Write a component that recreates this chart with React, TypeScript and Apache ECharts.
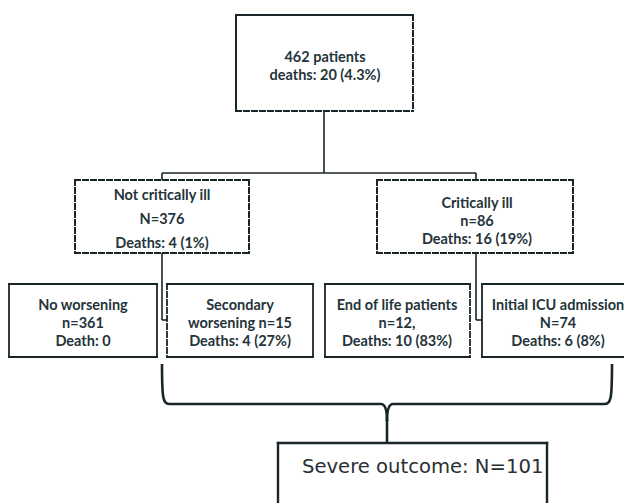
import React, { useEffect, useRef } from "react";
import * as echarts from "echarts";

// ---- Content ----
const rootLines = ["462 patients", "deaths: 20 (4.3%)"];
const notCriticalLines = ["Not critically ill", "N=376", "Deaths: 4 (1%)"];
const criticalLines = ["Critically ill", "n=86", "Deaths: 16 (19%)"];
const noWorseningLines = ["No worsening", "n=361", "Death: 0"];
const secondaryLines = ["Secondary", "worsening n=15", "Deaths: 4 (27%)"];
const endOfLifeLines = ["End of life patients", "n=12,", "Deaths: 10 (83%)"];
const initialIcuLines = ["Initial ICU admission", "N=74", "Deaths: 6 (8%)"];
const outcomeLabel = "Severe outcome: N=101";

const STROKE = "#1a2529";
const TEXT = "#25343a";
const FONT = "bold 14.5px Lato";

type Sides = { top?: boolean; right?: boolean; bottom?: boolean; left?: boolean };

function box(
  x: number, y: number, w: number, h: number,
  lw: number, dashed: Sides = {}
): any[] {
  const els: any[] = [
    { type: "rect", shape: { x, y, width: w, height: h }, style: { fill: "#ffffff", stroke: null } },
  ];
  const seg = (x1: number, y1: number, x2: number, y2: number, d?: boolean) => ({
    type: "line",
    shape: { x1, y1, x2, y2 },
    style: { stroke: STROKE, lineWidth: lw, lineDash: d ? [5, 3] : null, lineCap: "square" },
  });
  els.push(seg(x, y, x + w, y, dashed.top));
  els.push(seg(x + w, y, x + w, y + h, dashed.right));
  els.push(seg(x, y + h, x + w, y + h, dashed.bottom));
  els.push(seg(x, y, x, y + h, dashed.left));
  return els;
}

function lines(cx: number, ys: number[], texts: string[], font = FONT): any[] {
  return texts.map((t, i) => ({
    type: "text",
    x: cx,
    y: ys[i],
    style: {
      text: t,
      fill: TEXT,
      font,
      align: "center",
      verticalAlign: "middle",
      textAlign: "center",
      textVerticalAlign: "middle",
    },
  }));
}

function ln(x1: number, y1: number, x2: number, y2: number, lw = 1.6): any {
  return { type: "line", shape: { x1, y1, x2, y2 }, style: { stroke: STROKE, lineWidth: lw } };
}

function bz(x1: number, y1: number, cpx1: number, cpy1: number, cpx2: number, cpy2: number, x2: number, y2: number): any {
  return {
    type: "bezierCurve",
    shape: { x1, y1, cpx1, cpy1, cpx2, cpy2, x2, y2 },
    style: { stroke: STROKE, lineWidth: 2.6, fill: null },
  };
}

export default function App() {
  const ref = useRef<HTMLDivElement>(null);
  useEffect(() => {
    document.body.style.margin = "0";
    const chart = echarts.init(ref.current!, null, { renderer: "svg" });
    const rowY = [304, 322, 340];
    const els: any[] = [
      // connectors
      ln(324, 111, 324, 173),
      ln(162, 173, 476, 173),
      ln(162, 173, 162, 180),
      ln(476, 173, 476, 180),
      ln(162, 253, 162, 320),
      ln(162, 320, 167, 320),
      ln(476, 253, 476, 320),
      ln(476, 320, 482, 320),
      // boxes
      ...box(236, 15, 177, 96, 2, { bottom: true, right: true }),
      ...box(75, 180, 174, 73, 2, { top: true, right: true, bottom: true, left: true }),
      ...box(377, 180, 196, 73, 2, { top: true, right: true, bottom: true, left: true }),
      ...box(9, 284, 148, 73, 1.8),
      ...box(167, 284, 146, 73, 1.8, { left: true }),
      ...box(325, 284, 145, 73, 1.8, { right: true }),
      ...box(482, 284, 160, 73, 1.8),
      ...box(278, 443, 269, 90, 2.4),
      // texts
      ...lines(325, [56, 74], rootLines),
      ...lines(162, [194, 218, 242], notCriticalLines),
      ...lines(477, [202, 220, 238], criticalLines),
      ...lines(83, rowY, noWorseningLines),
      ...lines(240, rowY, secondaryLines),
      ...lines(397, rowY, endOfLifeLines),
      ...lines(558, rowY, initialIcuLines),
      {
        type: "text",
        x: 302,
        y: 466,
        style: {
          text: outcomeLabel,
          fill: "#2a2f33",
          font: "19.6px 'DejaVu Sans'",
          align: "left",
          verticalAlign: "middle",
          textAlign: "left",
          textVerticalAlign: "middle",
        },
      },
      // brace
      bz(162, 364, 162, 398, 163, 404, 169, 404),
      ln(169, 404, 381, 404, 2.6),
      bz(381, 404, 385, 404, 387, 410, 387, 421),
      bz(393, 404, 389, 404, 387, 410, 387, 421),
      ln(393, 404, 605, 404, 2.6),
      bz(605, 404, 611, 404, 612, 398, 612, 364),
      ln(387, 420, 387, 443, 2.6),
    ];
    chart.setOption({ animation: false, graphic: { elements: els } });
    return () => chart.dispose();
  }, []);
  return <div ref={ref} style={{ width: 624, height: 503 }} />;
}
